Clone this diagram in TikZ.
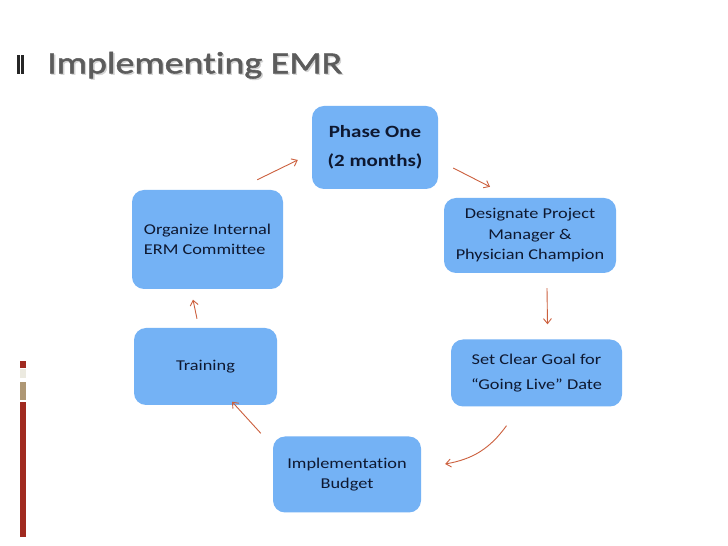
\documentclass[tikz,border=0pt]{standalone}
\usepackage{fontspec}
\setmainfont{Carlito}[FakeStretch=1.22,Ligatures={NoCommon}]
\newfontfamily\titlefont{Carlito}[FakeStretch=1.23,FakeBold=1.6,Ligatures={NoCommon}]
\usetikzlibrary{arrows.meta}
\definecolor{boxblue}{RGB}{116,178,245}
\definecolor{boxtext}{RGB}{14,24,48}
\definecolor{arrowc}{RGB}{204,96,62}
\definecolor{titlegray}{RGB}{92,92,92}
\definecolor{barred}{RGB}{160,42,32}
\definecolor{bartan}{RGB}{174,151,116}
\definecolor{barbeige}{RGB}{236,234,224}
\begin{document}
\begin{tikzpicture}[x=1pt,y=1pt,
  stepbox/.style={fill=boxblue, rounded corners=12pt, text=boxtext, inner sep=0pt, align=center,
    font=\fontsize{15}{20.5}\selectfont},
  cyc/.style={draw=arrowc, line width=0.9pt, -{Straight Barb[length=5pt,width=8pt]}}]
\useasboundingbox (0,0) rectangle (728,546);
\fill[white] (0,0) rectangle (728,546);
% title bars
\fill[black!85] (16.7,472) rectangle (20.3,491);
\fill[black!85] (21.3,472) rectangle (24.3,491);
% title
\node[anchor=base west, inner sep=0pt, text=gray!35, font=\titlefont\fontsize{30.8}{36}\selectfont] (titleshadow) at (48.4,471.3) {Implementing EMR};
\node[anchor=base west, inner sep=0pt, text=titlegray, font=\titlefont\fontsize{30.8}{36}\selectfont] (title) at (47,472.7) {Implementing EMR};
% left bar
\fill[barred] (20,178.3) rectangle (26,185);
\fill[barbeige] (20,168) rectangle (26,177);
\fill[bartan] (20,146) rectangle (26,164);
\fill[barred] (20,9.3) rectangle (26,144);
% boxes
\node[stepbox, minimum width=126pt, minimum height=83pt, font=\bfseries\fontsize{17.2}{29}\selectfont] (phase) at (375,398.5) {Phase One\\(2 months)};
\node[stepbox, minimum width=172pt, minimum height=75pt] (desig) at (530,310.5) {Designate Project\\Manager \&\\Physician Champion};
\node[stepbox, minimum width=171pt, minimum height=67pt, font=\fontsize{15}{25}\selectfont] (goal) at (536.5,173) {Set Clear Goal for\\“Going Live” Date};
\node[stepbox, minimum width=148pt, minimum height=76pt] (budget) at (347,71.5) {Implementation\\Budget};
\node[stepbox, minimum width=143pt, minimum height=77pt] (training) at (205.5,179.5) {Training};
\node[stepbox, minimum width=151pt, minimum height=99pt, align=left] (org) at (207.5,306.5) {Organize Internal\\ERM Committee};
% connectors
\draw[cyc] ([shift={(-26,10)}]org.north east) -- ([shift={(-14,-12.5)}]phase.west);
\draw[cyc] ([shift={(15,-20.5)}]phase.east) -- ([shift={(-40,11)}]desig.north);
\draw[cyc] ([shift={(17,-15)}]desig.south) -- ([shift={(11,15)}]goal.north);
\draw[cyc] ([shift={(-30,-19)}]goal.south) to[bend left=22] ([shift={(24,10.5)}]budget.east);
\draw[cyc] ([shift={(-12,3)}]budget.north west) -- ([shift={(26.5,3.5)}]training.south);
\draw[cyc] ([shift={(-8.5,9)}]training.north) -- ([shift={(-14.5,-10.5)}]org.south);
\end{tikzpicture}
\end{document}
